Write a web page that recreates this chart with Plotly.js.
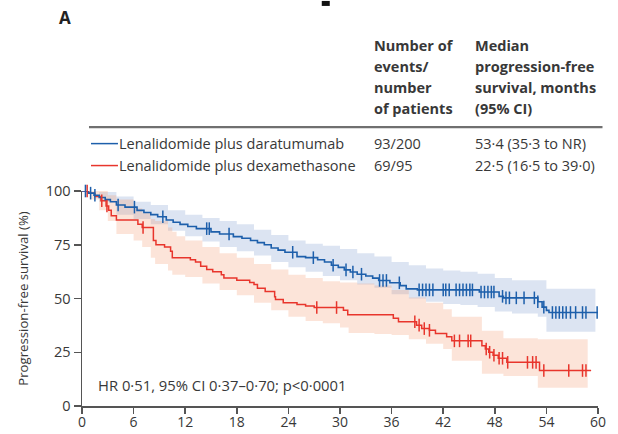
<!DOCTYPE html>
<html>
<head>
<meta charset="utf-8">
<script src="https://cdn.plot.ly/plotly-3.0.1.min.js"></script>
<style>
  html, body { margin: 0; padding: 0; background: #fff; }
  #chart { width: 618px; height: 434px; }
</style>
</head>
<body>
<div id="chart"></div>
<script>
// Kaplan-Meier progression-free survival, months vs %
const blueName = 'Lenalidomide plus daratumumab';
const redName = 'Lenalidomide plus dexamethasone';
const blueEvents = '93/200';
const redEvents = '69/95';
const blueMedian = '53·4 (35·3 to NR)';
const redMedian = '22·5 (16·5 to 39·0)';

// Step curve: lenalidomide plus daratumumab
const blueT = [0, 0.7, 1.4, 2.0, 2.7, 3.3, 4.0, 5.0, 6.4, 7.2, 8.0, 8.8, 9.8, 10.6, 11.4, 12.3, 13.3, 15.0, 16.0, 17.6, 18.6, 19.6, 20.4, 21.2, 22.0, 22.8, 23.6, 25.0, 26.0, 27.4, 28.2, 29.0, 29.8, 30.5, 31.2, 32.0, 33.0, 33.8, 34.5, 35.8, 37.0, 37.7, 39.0, 46.2, 48.5, 49.0, 53.0, 53.5, 54.0, 54.3, 60.0];
const blueS = [100, 99, 98, 97, 96, 95, 93.5, 92.5, 91, 90, 89, 88, 86.5, 85.5, 84.5, 83.5, 82.5, 81, 80, 78.8, 78, 77, 76, 75, 73.5, 72.5, 71.5, 69.5, 69, 68, 67, 65.5, 64.5, 63.3, 62.3, 61.3, 60.5, 59.5, 58.4, 57.3, 56, 54.5, 54, 53, 51, 50.3, 48.5, 46, 44.5, 43.5, 43.5];
const blueCensor = [0.4, 1.0, 1.5, 4.2, 6.1, 9.4, 14.5, 14.8, 17.1, 24.5, 26.9, 29.2, 30.7, 31.5, 32.5, 34.6, 35.0, 35.4, 36.9, 39.2, 39.6, 40.0, 40.4, 40.8, 42.0, 42.3, 42.7, 43.5, 43.9, 44.3, 44.7, 45.1, 45.4, 46.4, 46.8, 47.2, 47.6, 47.9, 48.9, 49.3, 49.7, 50.5, 51.4, 52.6, 53.0, 53.7, 54.7, 55.1, 55.5, 55.9, 56.3, 56.8, 57.4, 58.2, 58.6, 59.9];
// 95% CI band: lenalidomide plus daratumumab
const blueCiT = [0, 2, 4, 6, 8, 10, 12, 14, 16, 18, 20, 22, 24, 26, 28, 30, 32, 34, 36, 38, 40, 42, 44, 46, 48, 50, 53, 54, 59.7];
const blueCiHi = [100, 99.5, 97.5, 95, 93.5, 91, 89, 87.5, 86, 84.5, 82, 79.5, 77, 75.5, 74.5, 73, 71, 69.5, 67, 65.5, 64, 63, 62.5, 61.5, 59.5, 58.5, 58.5, 54.5, 54.5];
const blueCiLo = [100, 95, 89, 87, 84.5, 81.5, 79, 76.5, 74, 72, 70, 67, 64.5, 62.5, 60.5, 58.5, 56.5, 55, 52, 50, 48.5, 47.5, 47, 46, 44, 43, 41.5, 34.5, 34.5];

// Step curve: lenalidomide plus dexamethasone
const redT = [0, 0.8, 1.5, 2.2, 2.8, 3.1, 3.4, 4.0, 6.5, 7.0, 8.3, 8.6, 9.6, 10.3, 10.5, 12.6, 13.2, 13.8, 14.5, 15.2, 16.2, 16.5, 18.0, 19.5, 20.0, 20.4, 21.3, 22.4, 22.5, 23.4, 25.0, 26.0, 27.0, 30.4, 30.9, 36.2, 36.8, 38.9, 39.5, 40.4, 41.1, 42.4, 43.0, 46.5, 46.9, 47.3, 47.8, 48.4, 49.4, 53.2, 59.2];
const redS = [100, 99, 97.5, 95.5, 93, 91, 88.5, 86.5, 84.5, 83, 77, 75, 74, 72, 69, 68, 67, 65, 63.5, 62.5, 61, 59.5, 58.5, 57.5, 56.5, 54.8, 53.2, 50.8, 49.5, 48, 47.2, 46.5, 45.8, 44.5, 42.5, 40.8, 39.2, 37.6, 36, 35.2, 33.7, 32.2, 30.3, 28, 26.5, 25, 23.6, 22.2, 20.3, 16.5, 16.5];
const redCensor = [0.6, 2.3, 2.9, 7.1, 27.3, 29.6, 38.7, 39.2, 39.8, 40.4, 43.3, 43.9, 44.9, 45.2, 47.0, 47.4, 47.9, 48.5, 48.9, 49.5, 51.8, 52.4, 52.8, 53.7, 56.6, 58.2, 58.6];
// 95% CI band: lenalidomide plus dexamethasone
const redCiT = [0, 1, 2, 3, 4, 6, 7, 8, 8.5, 10, 10.5, 11, 12, 14, 16, 18, 20, 22, 24, 26, 28, 30, 31, 32, 34, 36, 38, 40, 42, 43, 46.5, 49, 53, 58.8];
const redCiHi = [100, 100, 100, 98, 96, 92, 90, 87, 86, 83, 81, 79, 77, 74, 71, 69, 66, 63.5, 61, 59.5, 58, 57.5, 57.5, 57, 56, 54, 50.5, 48, 45, 41.5, 35, 31.5, 31, 31];
const redCiLo = [100, 96, 91, 86, 80, 77, 74, 69, 66, 63, 61, 61, 60, 57, 54, 51.5, 48, 44.5, 41.5, 39.5, 38.5, 36.5, 34, 34, 33.5, 33, 31, 29, 26.5, 21, 15, 14, 8.5, 8.5];

const xTicks = [0, 6, 12, 18, 24, 30, 36, 42, 48, 54, 60];
const yTicks = [0, 25, 50, 75, 100];

const hrText = 'HR 0·51, 95% CI 0·37–0·70; p<0·0001';
const yTitle = 'Progression-free survival (%)';
const eventsHeader = ['Number of', 'events/', 'number', 'of patients'];
const medianHeader = ['Median', 'progression-free', 'survival, months', '(95% CI)'];

// value of a step curve at time t
function stepAt(ts, ss, t) {
  let v = ss[0];
  for (let i = 0; i < ts.length; i++) { if (ts[i] <= t) v = ss[i]; else break; }
  return v;
}

const BLUE = '#1d5fab';
const RED = '#e8352c';
const INK = '#383838';
const FONT = '"Open Sans", Lato, sans-serif';

// plot box in pixels
const L = 82, R = 598.5, T = 190.5, B = 406;
const W = 618, H = 434;
const px = x => (x - L) / (R - L);
const py = y => (B - y) / (B - T);

const traces = [
  {x: blueCiT, y: blueCiLo, mode: 'lines', line: {width: 0, shape: 'hv'}, hoverinfo: 'skip', showlegend: false},
  {x: blueCiT, y: blueCiHi, mode: 'lines', line: {width: 0, shape: 'hv'}, fill: 'tonexty', fillcolor: 'rgba(120,150,205,0.26)', hoverinfo: 'skip', showlegend: false},
  {x: redCiT, y: redCiLo, mode: 'lines', line: {width: 0, shape: 'hv'}, hoverinfo: 'skip', showlegend: false},
  {x: redCiT, y: redCiHi, mode: 'lines', line: {width: 0, shape: 'hv'}, fill: 'tonexty', fillcolor: 'rgba(245,150,110,0.26)', hoverinfo: 'skip', showlegend: false},
  {x: redT, y: redS, mode: 'lines', line: {color: RED, width: 1.5, shape: 'hv'}, name: redName, showlegend: false, cliponaxis: false},
  {x: blueT, y: blueS, mode: 'lines', line: {color: BLUE, width: 1.6, shape: 'hv'}, name: blueName, showlegend: false, cliponaxis: false},
  {x: redCensor, y: redCensor.map(t => stepAt(redT, redS, t)), mode: 'markers',
   marker: {symbol: 'line-ns-open', size: 9, color: RED, line: {color: RED, width: 1.5}}, showlegend: false, cliponaxis: false},
  {x: blueCensor, y: blueCensor.map(t => stepAt(blueT, blueS, t)), mode: 'markers',
   marker: {symbol: 'line-ns-open', size: 9, color: BLUE, line: {color: BLUE, width: 1.5}}, showlegend: false, cliponaxis: false}
];

const annotations = [];
const shapes = [];

// panel letter
annotations.push({xref: 'paper', yref: 'paper', x: px(57), y: py(17), xanchor: 'left', yanchor: 'middle',
  text: '<b>A</b>', showarrow: false, font: {family: FONT, size: 17, color: '#222'}});

// table header
const headY = [45, 66, 87, 108];
eventsHeader.forEach((s, i) => annotations.push({xref: 'paper', yref: 'paper', x: px(372), y: py(headY[i]),
  xanchor: 'left', yanchor: 'middle', text: '<b>' + s + '</b>', showarrow: false, font: {family: FONT, size: 14.5, color: INK}}));
medianHeader.forEach((s, i) => annotations.push({xref: 'paper', yref: 'paper', x: px(473), y: py(headY[i]),
  xanchor: 'left', yanchor: 'middle', text: '<b>' + s + '</b>', showarrow: false, font: {family: FONT, size: 14.5, color: INK}}));

// rule under the header
shapes.push({type: 'line', xref: 'paper', yref: 'paper', x0: px(89), x1: px(603), y0: py(126.5), y1: py(126.5),
  line: {color: '#707070', width: 2.3}});

// table rows
const rows = [
  {y: 143, color: BLUE, name: blueName, ev: blueEvents, med: blueMedian},
  {y: 165, color: RED, name: redName, ev: redEvents, med: redMedian}
];
rows.forEach(r => {
  shapes.push({type: 'line', xref: 'paper', yref: 'paper', x0: px(91), x1: px(118), y0: py(r.y), y1: py(r.y),
    line: {color: r.color, width: 1.5}});
  [[117.5, r.name], [372, r.ev], [473, r.med]].forEach(([x, s]) => annotations.push({xref: 'paper', yref: 'paper',
    x: px(x), y: py(r.y), xanchor: 'left', yanchor: 'middle', text: s, showarrow: false,
    font: {family: FONT, size: 14.5, color: INK}}));
});

// hazard ratio note
annotations.push({xref: 'paper', yref: 'paper', x: px(96), y: py(385), xanchor: 'left', yanchor: 'middle',
  text: hrText, showarrow: false, font: {family: FONT, size: 14.8, color: INK}});

// small dark block at the top edge
shapes.push({type: 'rect', xref: 'paper', yref: 'paper', x0: px(322), x1: px(330), y0: py(0), y1: py(5),
  line: {width: 0}, fillcolor: '#111'});

const layout = {
  width: W, height: H,
  margin: {l: L, r: W - R, t: T, b: H - B, pad: 0},
  paper_bgcolor: '#fff', plot_bgcolor: '#fff',
  font: {family: FONT, color: INK},
  xaxis: {
    range: [0, 60], tickvals: xTicks, ticktext: xTicks.map(String),
    showgrid: false, zeroline: false, showline: true, linecolor: '#555', linewidth: 1.5,
    ticks: 'outside', ticklen: 6, tickwidth: 1.5, tickcolor: '#555', ticklabelstandoff: -3,
    tickfont: {family: FONT, size: 14, color: INK}, fixedrange: true
  },
  yaxis: {
    range: [0, 100], tickvals: yTicks, ticktext: yTicks.map(String),
    showgrid: false, zeroline: false, showline: true, linecolor: '#555', linewidth: 1.5,
    ticks: 'outside', ticklen: 7, tickwidth: 1.5, tickcolor: '#555',
    tickfont: {family: FONT, size: 14.5, color: INK},
    title: {text: yTitle, font: {family: FONT, size: 13.2, color: INK}, standoff: 14},
    fixedrange: true
  },
  annotations: annotations,
  shapes: shapes,
  showlegend: false
};

Plotly.newPlot('chart', traces, layout, {displayModeBar: false, staticPlot: true});
</script>
</body>
</html>
